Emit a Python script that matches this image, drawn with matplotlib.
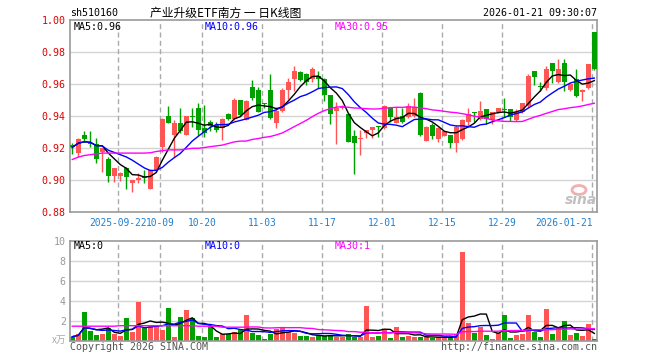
import numpy as np
import pandas as pd
import matplotlib
matplotlib.use('Agg')
import matplotlib.pyplot as plt
import matplotlib.transforms as mtransforms
from matplotlib.patches import Ellipse

plt.rcParams['font.family'] = ['DejaVu Sans Mono', 'Noto Sans CJK SC']

# ---------------- data ----------------
days = pd.bdate_range('2025-09-10', '2026-01-21')
holidays = pd.to_datetime(['2025-10-01', '2025-10-02', '2025-10-03', '2025-10-06',
                           '2025-10-07', '2025-10-08', '2026-01-01', '2026-01-02'])
dates = [d.strftime('%Y-%m-%d') for d in days if d not in holidays]

opens = [0.9221, 0.9169, 0.9283, 0.9235, 0.9225, 0.9180, 0.9133, 0.9029, 0.9029, 0.9079,
         0.8985, 0.9002, 0.9023, 0.8946, 0.9065, 0.9210, 0.9402, 0.9283, 0.9360, 0.9283,
         0.9400, 0.9454, 0.9325, 0.9362, 0.9344, 0.9327, 0.9415, 0.9381, 0.9502, 0.9377,
         0.9581, 0.9565, 0.9477, 0.9565, 0.9360, 0.9433, 0.9565, 0.9633, 0.9679, 0.9665,
         0.9633, 0.9652, 0.9633, 0.9533, 0.9435, 0.9450, 0.9415, 0.9277, 0.9260, 0.9298,
         0.9315, 0.9337, 0.9325, 0.9450, 0.9360, 0.9402, 0.9398, 0.9402, 0.9544, 0.9248,
         0.9346, 0.9260, 0.9279, 0.9283, 0.9235, 0.9258, 0.9367, 0.9427, 0.9383, 0.9444,
         0.9377, 0.9425, 0.9446, 0.9444, 0.9377, 0.9425, 0.9465, 0.9683, 0.9587, 0.9575,
         0.9731, 0.9617, 0.9731, 0.9565, 0.9631, 0.9554, 0.9575, 0.9925]
highs = [0.9235, 0.9262, 0.9311, 0.9311, 0.9262, 0.9205, 0.9148, 0.9080, 0.9054, 0.9085,
         0.9002, 0.9048, 0.9066, 0.9069, 0.9150, 0.9388, 0.9465, 0.9377, 0.9450, 0.9405,
         0.9454, 0.9485, 0.9470, 0.9377, 0.9367, 0.9387, 0.9420, 0.9513, 0.9505, 0.9505,
         0.9627, 0.9585, 0.9481, 0.9665, 0.9460, 0.9575, 0.9637, 0.9715, 0.9682, 0.9668,
         0.9710, 0.9685, 0.9637, 0.9535, 0.9492, 0.9471, 0.9418, 0.9315, 0.9315, 0.9315,
         0.9335, 0.9340, 0.9470, 0.9455, 0.9460, 0.9450, 0.9481, 0.9513, 0.9554, 0.9340,
         0.9360, 0.9335, 0.9310, 0.9285, 0.9346, 0.9383, 0.9450, 0.9430, 0.9496, 0.9446,
         0.9430, 0.9452, 0.9512, 0.9446, 0.9444, 0.9483, 0.9665, 0.9685, 0.9617, 0.9715,
         0.9733, 0.9756, 0.9756, 0.9606, 0.9694, 0.9568, 0.9729, 0.9927]
lows = [0.9163, 0.9148, 0.9242, 0.9211, 0.9106, 0.9049, 0.8992, 0.8992, 0.8998, 0.8944,
        0.8929, 0.8981, 0.8985, 0.8944, 0.9060, 0.9179, 0.9356, 0.9144, 0.9298, 0.9280,
        0.9335, 0.9283, 0.9273, 0.9310, 0.9304, 0.9252, 0.9378, 0.9377, 0.9405, 0.9375,
        0.9502, 0.9425, 0.9450, 0.9383, 0.9329, 0.9429, 0.9508, 0.9560, 0.9620, 0.9596,
        0.9617, 0.9579, 0.9498, 0.9352, 0.9227, 0.9444, 0.9238, 0.9040, 0.9158, 0.9267,
        0.9263, 0.9273, 0.9320, 0.9367, 0.9356, 0.9356, 0.9390, 0.9398, 0.9279, 0.9245,
        0.9258, 0.9242, 0.9275, 0.9204, 0.9179, 0.9255, 0.9340, 0.9362, 0.9377, 0.9350,
        0.9350, 0.9420, 0.9398, 0.9371, 0.9371, 0.9423, 0.9458, 0.9596, 0.9560, 0.9565,
        0.9610, 0.9606, 0.9558, 0.9558, 0.9519, 0.9496, 0.9569, 0.9690]
closes = [0.9206, 0.9258, 0.9258, 0.9228, 0.9135, 0.9201, 0.9029, 0.9079, 0.9048, 0.9019,
          0.9002, 0.9017, 0.9017, 0.9065, 0.9144, 0.9383, 0.9360, 0.9360, 0.9310, 0.9402,
          0.9396, 0.9315, 0.9298, 0.9342, 0.9315, 0.9381, 0.9381, 0.9502, 0.9408, 0.9498,
          0.9513, 0.9429, 0.9475, 0.9388, 0.9433, 0.9565, 0.9617, 0.9685, 0.9627, 0.9617,
          0.9696, 0.9633, 0.9533, 0.9415, 0.9450, 0.9460, 0.9242, 0.9235, 0.9263, 0.9315,
          0.9335, 0.9333, 0.9465, 0.9398, 0.9398, 0.9367, 0.9465, 0.9460, 0.9283, 0.9335,
          0.9279, 0.9329, 0.9308, 0.9235, 0.9335, 0.9377, 0.9412, 0.9423, 0.9435, 0.9383,
          0.9425, 0.9450, 0.9442, 0.9398, 0.9425, 0.9481, 0.9652, 0.9648, 0.9585, 0.9694,
          0.9683, 0.9694, 0.9617, 0.9602, 0.9527, 0.9565, 0.9727, 0.9694]
volumes = [0.40, 0.67, 2.87, 1.00, 0.57, 0.67, 1.30, 0.67, 0.47, 2.27,
           0.90, 3.87, 1.30, 1.53, 1.53, 1.07, 3.27, 0.40, 2.37, 3.10,
           2.30, 0.47, 0.40, 1.33, 0.40, 0.63, 0.63, 0.83, 1.07, 2.57,
           0.80, 0.57, 0.17, 0.67, 1.17, 1.37, 0.90, 0.77, 0.47, 0.47,
           0.37, 0.60, 0.47, 0.60, 0.40, 0.40, 0.67, 0.40, 0.37, 3.47,
           0.37, 0.47, 1.07, 0.27, 1.37, 0.37, 0.47, 0.37, 0.37, 0.37,
           0.30, 0.37, 0.33, 0.33, 0.60, 8.87, 1.73, 0.77, 1.37, 0.57,
           0.17, 0.77, 2.57, 0.27, 0.57, 0.67, 2.57, 0.87, 0.37, 3.17,
           0.67, 1.37, 2.00, 0.57, 0.77, 0.47, 1.67, 0.17]
# MA30 values before a full 30-day window is visible
ma30_head = [0.9130, 0.9145, 0.9155, 0.9160, 0.9165, 0.9170, 0.9170, 0.9170, 0.9170, 0.9170,
             0.9170, 0.9170, 0.9170, 0.9172, 0.9180, 0.9185, 0.9190, 0.9190, 0.9190, 0.9195,
             0.9200, 0.9200, 0.9205, 0.9210, 0.9215, 0.9220, 0.9230, 0.9240, 0.9245]
vol_ma30_head = [1.45, 1.45, 1.45, 1.45, 1.45, 1.45, 1.45, 1.45, 1.50, 1.50,
                 1.50, 1.50, 1.50, 1.50, 1.50, 1.50, 1.50, 1.50, 1.50, 1.50,
                 1.50, 1.45, 1.45, 1.45, 1.45, 1.35, 1.35, 1.35, 1.35]

tick_dates = ['2025-09-22', '2025-10-09', '2025-10-20', '2025-11-03', '2025-11-17',
              '2025-12-01', '2025-12-15', '2025-12-29', '2026-01-21']
tick_labels = ['2025-09-22', '10-09', '10-20', '11-03', '11-17', '12-01', '12-15',
               '12-29', '2026-01-21']
price_ticks = [0.88, 0.90, 0.92, 0.94, 0.96, 0.98, 1.00]
vol_ticks = [2, 4, 6, 8, 10]

# ---------------- derived ----------------
n = len(closes)
x = np.arange(n)
o = np.array(opens); c = np.array(closes); h = np.array(highs); l = np.array(lows)
cs = pd.Series(closes)
ma5 = cs.rolling(5, min_periods=1).mean().values
ma10 = cs.rolling(10, min_periods=1).mean().values
ma30 = cs.rolling(30).mean().values
ma30[:len(ma30_head)] = ma30_head
vs = pd.Series(volumes)
vma5 = vs.rolling(5, min_periods=1).mean().values
vma10 = vs.rolling(10, min_periods=1).mean().values
vma30 = vs.rolling(30).mean().values
vma30[:len(vol_ma30_head)] = vol_ma30_head

RED = '#ff5555'
GREEN = '#00a000'
cols = [RED if cc >= oo else GREEN for oo, cc in zip(o, c)]

W, H = 660, 360
fig = plt.figure(figsize=(W / 100, H / 100), dpi=100)
fig.patch.set_facecolor('white')

def fx(px):
    return px / W

def fy(py):
    return 1 - py / H

ax = fig.add_axes([fx(70), fy(212.3), 527 / W, 192 / H])
axv = fig.add_axes([fx(70), fy(340.7), 527 / W, 100 / H])

xlim = (-0.38, 87.45)
grid_x = [dates.index(d) - 0.33 for d in tick_dates]
dot = (0, (0.72, 0.72))
dash = (0, (3.6, 2.4))

for a in (ax, axv):
    a.set_xlim(*xlim)
    for s in a.spines.values():
        s.set_color('#999999')
        s.set_linewidth(1.2)
    for gx in grid_x:
        a.axvline(gx, color='#aaaaaa', lw=1, ls=dash, zorder=0)
    a.tick_params(length=0)

# price panel
ax.set_ylim(0.88, 1.00)
for gy in [0.90, 0.92, 0.94, 0.96, 0.98]:
    ax.axhline(gy, color='#aaaaaa', lw=1, ls=dot, zorder=0)
ax.vlines(x, l, h, colors=cols, lw=1, zorder=2)
body_bot = np.minimum(o, c)
body_h = np.maximum(np.abs(c - o), 0.0006)
ax.bar(x, body_h, bottom=body_bot, width=0.8, color=cols, linewidth=0, zorder=3)
ax.plot(x, ma5, color='black', lw=1, zorder=4)
ax.plot(x, ma10, color='#0000ff', lw=1, zorder=4)
ax.plot(x, ma30, color='#ff00ff', lw=1, zorder=4)
ax.set_yticks(price_ticks)
ax.set_yticklabels(['%.2f' % t for t in price_ticks], color='#e00000', fontsize=7.2)
ax.tick_params(axis='y', pad=3)
ax.set_xticks(grid_x)
xl = ax.set_xticklabels(tick_labels, color='#2080d0', fontsize=6.9)
xl[-1].set_ha('right')
xl[0].set_transform(xl[0].get_transform() +
                    mtransforms.ScaledTranslation(-2.5 / 100, 0, fig.dpi_scale_trans))
ax.tick_params(axis='x', pad=4)

# volume panel
axv.set_ylim(0, 10)
for gy in [2, 4, 6, 8]:
    axv.axhline(gy, color='#aaaaaa', lw=1, ls=dot, zorder=0)
axv.bar(x, volumes, width=0.8, color=cols, linewidth=0, zorder=2)
axv.plot(x, vma5, color='black', lw=1, zorder=3)
axv.plot(x, vma10, color='#0000ff', lw=1, zorder=3)
axv.plot(x, vma30, color='#ff00ff', lw=1, zorder=3)
axv.set_yticks(vol_ticks)
axv.set_yticklabels([str(t) for t in vol_ticks], color='#999999', fontsize=7.2)
axv.tick_params(axis='y', pad=3)
axv.set_xticks([])

# texts
fs = 7.2
fig.text(fx(70), fy(13), 'sh510160', fontsize=fs, va='center', ha='left')
fig.text(fx(150), fy(13), '产业升级ETF南方 一 日K线图', fontsize=8.5, va='center', ha='left',
         family=['Noto Sans CJK SC', 'DejaVu Sans'])
fig.text(fx(597), fy(13), '2026-01-21 09:30:07', fontsize=fs, va='center', ha='right')
fig.text(fx(74), fy(26.5), 'MA5:0.96', fontsize=fs, va='center', color='black')
fig.text(fx(205), fy(26.5), 'MA10:0.96', fontsize=fs, va='center', color='#0000ff')
fig.text(fx(335), fy(26.5), 'MA30:0.95', fontsize=fs, va='center', color='#ff00ff')
fig.text(fx(74), fy(246), 'MA5:0', fontsize=fs, va='center', color='black')
fig.text(fx(205), fy(246), 'MA10:0', fontsize=fs, va='center', color='#0000ff')
fig.text(fx(335), fy(246), 'MA30:1', fontsize=fs, va='center', color='#ff00ff')
fig.text(fx(66), fy(340), 'x万', fontsize=7, va='center', ha='right', color='#aaaaaa',
         family=['Noto Sans CJK SC', 'DejaVu Sans'])
fig.text(fx(70), fy(347), 'Copyright 2026 SINA.COM', fontsize=fs, va='center', ha='left', color='#555555')
fig.text(fx(597), fy(347), 'http://finance.sina.com.cn', fontsize=fs, va='center', ha='right', color='#555555')

# sina watermark
fig.patches.append(Ellipse((fx(579), fy(190)), 14 / W, 9 / H, transform=fig.transFigure,
                           facecolor='none', edgecolor='#f2b0b0', lw=2))
fig.text(fx(581), fy(200), 'sina', fontsize=10, fontweight='bold', style='italic',
         ha='center', va='center', color='#c0c0c0', family='DejaVu Sans')

fig.savefig('out.png', dpi=100)
